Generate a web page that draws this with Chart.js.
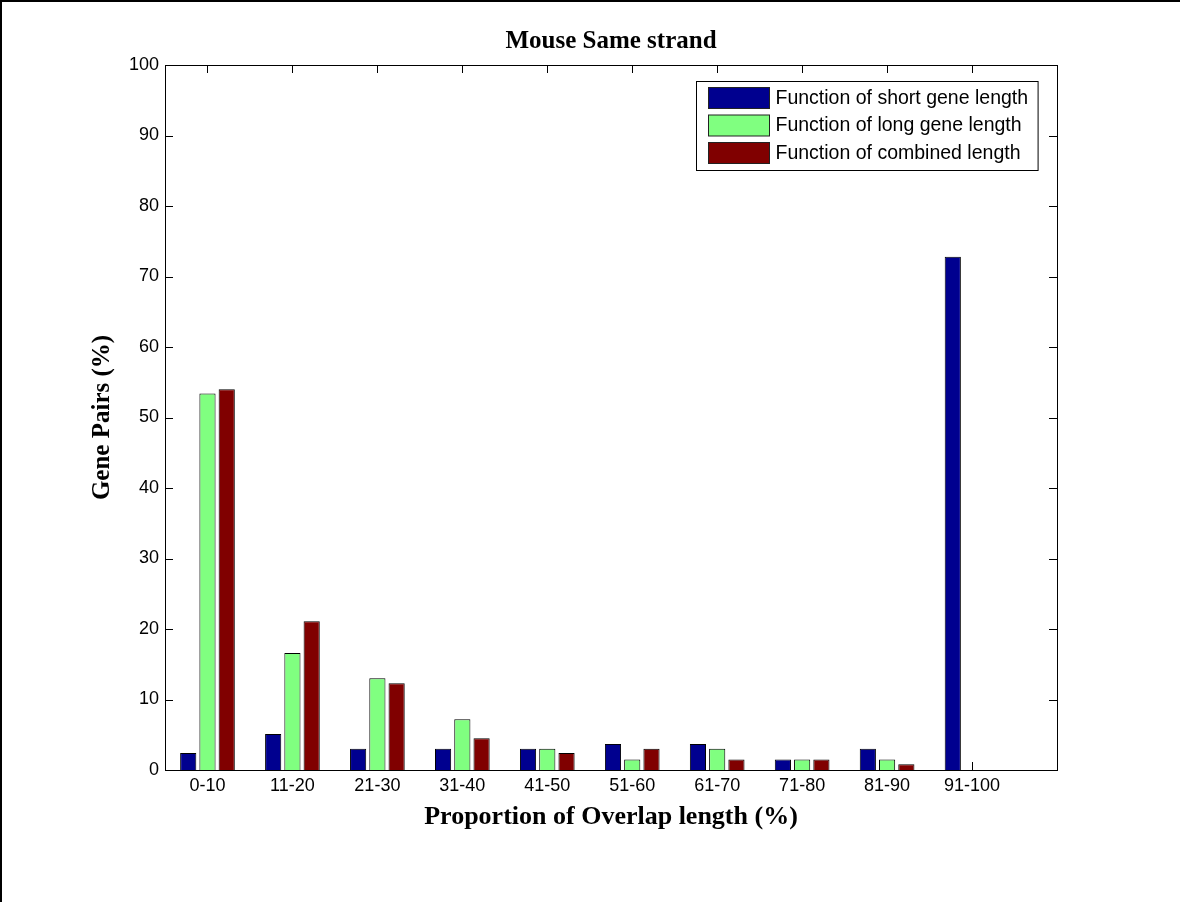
<!DOCTYPE html>
<html lang="en">
<head>
  <meta charset="UTF-8" />
  <title>Mouse Same strand</title>
  <style>
    body {
      margin: 0;
      padding: 0;
      background: #fff;
    }
    canvas {
      display: block;
    }
  </style>
</head>
<body>
  <canvas id="overlapChart" width="1180" height="902"></canvas>

  <script src="https://cdn.jsdelivr.net/npm/chart.js"></script>
  <script>
    // values (percent of gene pairs)
    const categories = ['0-10', '11-20', '21-30', '31-40', '41-50', '51-60', '61-70', '71-80', '81-90', '91-100'];
    const shortGene = [2.4, 5.1, 3.0, 3.0, 3.0, 3.7, 3.7, 1.5, 3.0, 72.8];
    const longGene = [53.4, 16.6, 13.0, 7.2, 3.0, 1.5, 3.0, 1.5, 1.5, 0];
    const combinedLen = [54.0, 21.1, 12.3, 4.5, 2.4, 3.0, 1.5, 1.5, 0.8, 0];
    const seriesNames = ['Function of short gene length', 'Function of long gene length', 'Function of combined length'];
    const seriesColors = ['#00008f', '#80ff80', '#800000'];

    const sansFont = "'Liberation Sans', Arial, Helvetica, sans-serif";
    const serifFont = "'Liberation Serif', 'Times New Roman', serif";

    function toPoints(values) {
      return values.map((v, i) => ({ x: i + 1, y: v }));
    }

    // matlab style box with inward ticks on all four sides
    const framePlugin = {
      id: 'frame',
      beforeDatasetsDraw(chart) {
        const { ctx, chartArea: a, scales: { x, y } } = chart;
        ctx.save();
        ctx.strokeStyle = '#000';
        ctx.lineWidth = 1;
        ctx.beginPath();
        x.ticks.forEach(t => {
          const px = Math.round(x.getPixelForValue(t.value)) + 0.5;
          ctx.moveTo(px, a.top);
          ctx.lineTo(px, a.top + 8);
          ctx.moveTo(px, a.bottom);
          ctx.lineTo(px, a.bottom - 8);
        });
        y.ticks.forEach(t => {
          const py = Math.round(y.getPixelForValue(t.value)) + 0.5;
          ctx.moveTo(a.left, py);
          ctx.lineTo(a.left + 8, py);
          ctx.moveTo(a.right, py);
          ctx.lineTo(a.right - 8, py);
        });
        ctx.stroke();
        ctx.restore();
      },
      afterDatasetsDraw(chart) {
        const { ctx, chartArea: a } = chart;
        ctx.save();
        ctx.strokeStyle = '#000';
        ctx.lineWidth = 1;
        ctx.strokeRect(Math.round(a.left) + 0.5, Math.round(a.top) + 0.5,
          Math.round(a.right - a.left), Math.round(a.bottom - a.top));
        ctx.restore();
      },
      afterDraw(chart) {
        // page edge lines
        const ctx = chart.ctx;
        ctx.save();
        ctx.fillStyle = '#000';
        ctx.fillRect(0, 0, chart.width, 2);
        ctx.fillRect(0, 0, 2, chart.height);
        ctx.restore();
      }
    };

    const boxLegendPlugin = {
      id: 'boxLegend',
      afterDraw(chart) {
        const { ctx, chartArea: a } = chart;
        const sets = chart.data.datasets;
        ctx.save();
        ctx.font = '19.5px ' + sansFont;
        const textW = Math.max(...sets.map(d => ctx.measureText(d.label).width));
        const w = 79 + textW + 10;
        const h = 89;
        const left = Math.round(a.right - 19 - w) + 0.5;
        const top = Math.round(a.top + 16) + 0.5;
        ctx.fillStyle = '#fff';
        ctx.fillRect(left, top, w, h);
        ctx.strokeStyle = '#000';
        ctx.lineWidth = 1;
        ctx.strokeRect(left, top, w, h);
        sets.forEach((d, i) => {
          const cy = top + 16 + i * 27.5;
          ctx.fillStyle = d.backgroundColor;
          ctx.fillRect(left + 12, cy - 10, 61, 21);
          ctx.strokeStyle = '#222';
          ctx.strokeRect(left + 12, cy - 10, 61, 21);
          ctx.fillStyle = '#000';
          ctx.textBaseline = 'middle';
          ctx.textAlign = 'left';
          ctx.fillText(d.label, left + 79, cy + 1);
        });
        ctx.restore();
      }
    };

    const ctx = document.getElementById('overlapChart').getContext('2d');

    const overlapChart = new Chart(ctx, {
      type: 'bar',
      data: {
        datasets: [
          { label: seriesNames[0], data: toPoints(shortGene), backgroundColor: seriesColors[0] },
          { label: seriesNames[1], data: toPoints(longGene), backgroundColor: seriesColors[1] },
          { label: seriesNames[2], data: toPoints(combinedLen), backgroundColor: seriesColors[2] }
        ]
      },
      options: {
        responsive: false,
        animation: false,
        devicePixelRatio: 1,
        layout: { padding: { left: 0, right: 123, top: 0, bottom: 0 } },
        datasets: {
          bar: {
            categoryPercentage: 0.68,
            barPercentage: 0.84,
            borderColor: '#000',
            borderWidth: 1
          }
        },
        plugins: {
          legend: { display: false },
          tooltip: { enabled: false },
          title: {
            display: true,
            text: 'Mouse Same strand',
            fullSize: false,
            color: '#000',
            font: { family: serifFont, size: 25, weight: 'bold', lineHeight: '30px' },
            padding: { top: 27, bottom: 8 }
          }
        },
        scales: {
          x: {
            type: 'linear',
            min: 0.5,
            max: 11,
            offset: false,
            grid: { display: false, drawTicks: false },
            border: { display: false },
            afterBuildTicks: scale => {
              scale.ticks = categories.map((c, i) => ({ value: i + 1 }));
            },
            afterFit: scale => { scale.height = 132; },
            ticks: {
              autoSkip: false,
              maxRotation: 0,
              padding: 5,
              color: '#000',
              font: { family: sansFont, size: 18 },
              callback: v => categories[v - 1]
            },
            title: {
              display: true,
              text: 'Proportion of Overlap length (%)',
              color: '#000',
              font: { family: serifFont, size: 26, weight: 'bold', lineHeight: '30px' },
              padding: { top: 0, bottom: 70 }
            }
          },
          y: {
            min: 0,
            max: 100,
            grid: { display: false, drawTicks: false },
            border: { display: false },
            afterFit: scale => { scale.width = 165; },
            ticks: {
              stepSize: 10,
              padding: 6,
              color: '#000',
              font: { family: sansFont, size: 18 }
            },
            title: {
              display: true,
              text: 'Gene Pairs (%)',
              color: '#000',
              font: { family: serifFont, size: 25, weight: 'bold', lineHeight: '30px' },
              padding: { top: 88, bottom: 0 }
            }
          }
        }
      },
      plugins: [framePlugin, boxLegendPlugin]
    });
  </script>
</body>
</html>
